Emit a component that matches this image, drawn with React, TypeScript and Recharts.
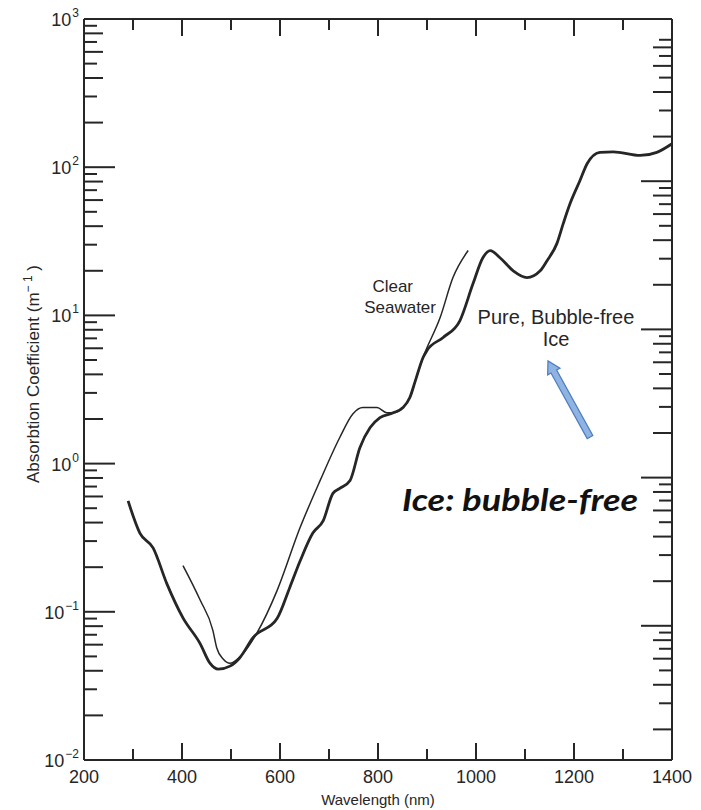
import React from 'react';
import { LineChart, Line, XAxis, YAxis } from 'recharts';

// pure bubble-free ice, absorption (1/m) vs wavelength (nm)
const ICE_NM = [290, 314, 341, 369, 402, 437, 457, 474, 498, 518, 545, 594, 620, 641, 667, 688, 708, 722, 743, 763, 784, 804, 831, 851, 865, 876, 892, 900, 933, 967, 994, 1014, 1029, 1049, 1076, 1104, 1131, 1145, 1165, 1178, 1192, 1212, 1227, 1253, 1280, 1335, 1369, 1400];
const ICE_ABS = [0.56, 0.34, 0.27, 0.155, 0.091, 0.061, 0.045, 0.041, 0.043, 0.049, 0.067, 0.09, 0.146, 0.22, 0.34, 0.41, 0.63, 0.68, 0.77, 1.28, 1.75, 2.04, 2.2, 2.39, 2.79, 3.6, 5.2, 5.8, 7.1, 9.2, 16.4, 24.5, 27.4, 24.5, 20, 18, 20, 23.4, 30.5, 41.6, 56.8, 81, 106, 126, 127, 120, 126, 144];

// clear seawater
const SEA_NM = [402, 437, 463, 471, 484, 498, 524, 553, 594, 641, 682, 722, 749, 769, 798, 818, 831, 851, 865, 876, 892, 927, 953, 984];
const SEA_ABS = [0.205, 0.12, 0.075, 0.057, 0.048, 0.045, 0.052, 0.072, 0.139, 0.37, 0.77, 1.5, 2.17, 2.39, 2.39, 2.2, 2.2, 2.39, 2.79, 3.6, 5.2, 9.7, 18, 27.4];

const X_MAJOR = [200, 400, 600, 800, 1000, 1200, 1400];
const X_MINOR = [300, 500, 700, 900, 1100, 1300];
const DECADES = [0.01, 0.1, 1, 10, 100, 1000];
const DECADE_EXP = ['\u22122', '\u22121', '0', '1', '2', '3'];
const LOG_STEPS = [2, 3, 4, 5, 6, 7, 8, 9];

const W = 701;
const H = 810;
// plot box: x 84..672, y 19..760 (margins + axis sizes)
const MARGIN = { top: 9, right: 9, bottom: 10, left: 24 };
const LEFT_W = 60;
const RIGHT_W = 20;
const TOP_H = 10;
const BOTTOM_H = 40;
const INK = '#262626';
const FONT = '"Liberation Sans", Arial, Helvetica, sans-serif';
// the right-hand scale is printed a little lower than the left one
const RIGHT_TICK_DROP = 14;

const iceData = ICE_NM.map((nm, i) => ({ nm, abs: ICE_ABS[i] }));
const seaData = SEA_NM.map((nm, i) => ({ nm, abs: SEA_ABS[i] }));

const X_TICKS = [...X_MAJOR, ...X_MINOR].sort((a, b) => a - b);
const Y_TICKS = [
  ...DECADES,
  ...DECADES.slice(0, -1).flatMap((d) => LOG_STEPS.map((s) => d * s)),
].sort((a, b) => a - b);
const Y_TICKS_RIGHT = Y_TICKS.filter((v) => v > 0.011 && v < 999);

const decadeIndex = (v: number) => DECADES.findIndex((d) => Math.abs(v - d) / d < 1e-6);

// 1 for decades, otherwise the 2..9 step
const mantissa = (v: number) => {
  const e = Math.floor(Math.log10(v) + 1e-9);
  return Math.round(v / Math.pow(10, e));
};

const yTickLen = (v: number) => {
  const m = mantissa(v);
  if (m === 1) return 31;
  return m % 2 === 0 ? 19 : 13;
};

const xTickLen = (v: number) => (X_MAJOR.includes(v) ? 17 : 11);

const BottomTick = ({ x, y, payload }: any) => {
  const v = payload.value;
  return (
    <g>
      <line x1={x} x2={x} y1={y} y2={y - xTickLen(v)} stroke={INK} strokeWidth={2} />
      {X_MAJOR.includes(v) && (
        <text x={x} y={y + 23} textAnchor="middle" fontFamily={FONT} fontSize={18} fill={INK}>
          {v}
        </text>
      )}
    </g>
  );
};

const TopTick = ({ x, y, payload }: any) => (
  <line x1={x} x2={x} y1={y} y2={y + xTickLen(payload.value)} stroke={INK} strokeWidth={2} />
);

const LeftTick = ({ x, y, payload }: any) => {
  const v = payload.value;
  const di = decadeIndex(v);
  return (
    <g>
      <line x1={x} x2={x + yTickLen(v)} y1={y} y2={y} stroke={INK} strokeWidth={2} />
      {di >= 0 && (
        <text x={x - 5} y={y + 7} textAnchor="end" fontFamily={FONT} fontSize={18} fill={INK}>
          10
          <tspan dx={1} dy={-9} fontSize={12}>{DECADE_EXP[di]}</tspan>
        </text>
      )}
    </g>
  );
};

const RightTick = ({ x, y, payload }: any) => {
  const ty = y + RIGHT_TICK_DROP;
  return <line x1={x} x2={x - yTickLen(payload.value)} y1={ty} y2={ty} stroke={INK} strokeWidth={2} />;
};

// block arrow from tail to tip
function BlockArrow({ tail, tip }: { tail: [number, number]; tip: [number, number] }) {
  const dx = tip[0] - tail[0];
  const dy = tip[1] - tail[1];
  const len = Math.hypot(dx, dy);
  const ux = dx / len;
  const uy = dy / len;
  const nx = -uy;
  const ny = ux;
  const sw = 3.2;
  const hw = 7;
  const hl = 12;
  const bx = tip[0] - ux * hl;
  const by = tip[1] - uy * hl;
  const pts = [
    [tail[0] + nx * sw, tail[1] + ny * sw],
    [bx + nx * sw, by + ny * sw],
    [bx + nx * hw, by + ny * hw],
    [tip[0], tip[1]],
    [bx - nx * hw, by - ny * hw],
    [bx - nx * sw, by - ny * sw],
    [tail[0] - nx * sw, tail[1] - ny * sw],
  ];
  return (
    <polygon
      points={pts.map((p) => p.join(',')).join(' ')}
      fill="#8fb4e3"
      stroke="#4f7fc0"
      strokeWidth={1.3}
      strokeLinejoin="miter"
    />
  );
}

const AXIS_LINE = { stroke: INK, strokeWidth: 2 };

export default function App() {
  return (
    <div style={{ position: 'absolute', left: 0, top: 0, width: W, height: H, background: '#fff' }}>
      <LineChart width={W} height={H} margin={MARGIN}>
        <XAxis
          xAxisId="bottom"
          type="number"
          dataKey="nm"
          domain={[200, 1400]}
          allowDataOverflow
          ticks={X_TICKS}
          interval={0}
          height={BOTTOM_H}
          tickSize={0}
          tickMargin={0}
          tickLine={false}
          axisLine={AXIS_LINE}
          tick={BottomTick}
        />
        <XAxis
          xAxisId="top"
          orientation="top"
          type="number"
          dataKey="nm"
          domain={[200, 1400]}
          allowDataOverflow
          ticks={X_TICKS}
          interval={0}
          height={TOP_H}
          tickSize={0}
          tickMargin={0}
          tickLine={false}
          axisLine={AXIS_LINE}
          tick={TopTick}
        />
        <YAxis
          yAxisId="left"
          scale="log"
          type="number"
          domain={[0.01, 1000]}
          allowDataOverflow
          ticks={Y_TICKS}
          interval={0}
          width={LEFT_W}
          tickSize={0}
          tickMargin={0}
          tickLine={false}
          axisLine={AXIS_LINE}
          tick={LeftTick}
        />
        <YAxis
          yAxisId="right"
          orientation="right"
          scale="log"
          type="number"
          domain={[0.01, 1000]}
          allowDataOverflow
          ticks={Y_TICKS_RIGHT}
          interval={0}
          width={RIGHT_W}
          tickSize={0}
          tickMargin={0}
          tickLine={false}
          axisLine={AXIS_LINE}
          tick={RightTick}
        />
        <Line
          xAxisId="bottom"
          yAxisId="left"
          data={seaData}
          dataKey="abs"
          type="monotone"
          stroke={INK}
          strokeWidth={1.5}
          dot={false}
          isAnimationActive={false}
        />
        <Line
          xAxisId="bottom"
          yAxisId="left"
          data={iceData}
          dataKey="abs"
          type="monotone"
          stroke={INK}
          strokeWidth={2.8}
          dot={false}
          isAnimationActive={false}
        />
        {/* hidden series so the top/right axes share the same scales */}
        <Line
          xAxisId="top"
          yAxisId="right"
          data={iceData}
          dataKey="abs"
          stroke="none"
          dot={false}
          activeDot={false}
          isAnimationActive={false}
        />

        <text x={413} y={292} textAnchor="end" fontFamily={FONT} fontSize={17} fill={INK}>Clear</text>
        <text x={436} y={313} textAnchor="end" fontFamily={FONT} fontSize={17} fill={INK}>Seawater</text>
        <text x={556} y={324} textAnchor="middle" fontFamily={FONT} fontSize={20} fill={INK}>Pure, Bubble-free</text>
        <text x={556} y={346} textAnchor="middle" fontFamily={FONT} fontSize={20} fill={INK}>Ice</text>
        <BlockArrow tail={[590, 437]} tip={[548, 361]} />
        <text
          x={402}
          y={511}
          fontFamily='Lato, "Open Sans", sans-serif'
          fontWeight={700}
          fontStyle="italic"
          fontSize={31}
          fill="#111"
          textLength={236}
          lengthAdjust="spacingAndGlyphs"
        >
          Ice: bubble-free
        </text>

        <text x={378} y={805} textAnchor="middle" fontFamily={FONT} fontSize={15} fill={INK}>
          Wavelength (nm)
        </text>
        <text
          x={0}
          y={0}
          transform="translate(39 374) rotate(-90)"
          textAnchor="middle"
          fontFamily={FONT}
          fontSize={17}
          fill={INK}
        >
          Absorbtion Coefficient (m
          <tspan dy={-7} fontSize={12}>{'\u2212 1'}</tspan>
          <tspan dy={7}>{' )'}</tspan>
        </text>
      </LineChart>
    </div>
  );
}
